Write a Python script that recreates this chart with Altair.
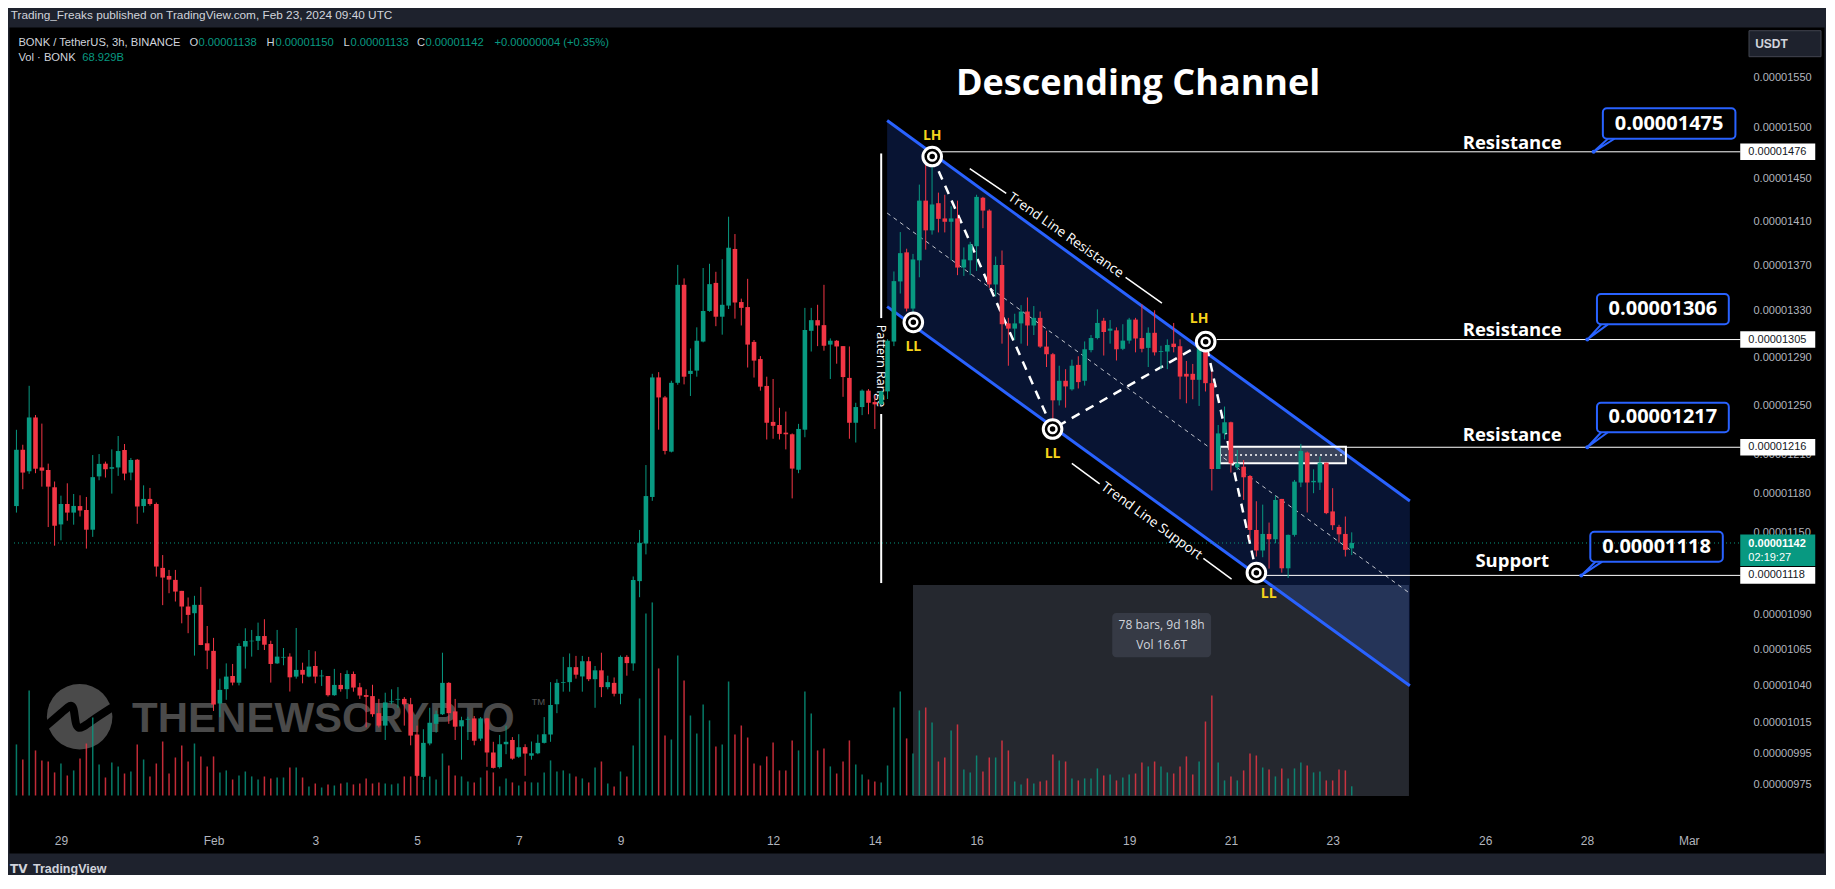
import altair as alt
import numpy as np
import pandas as pd

E = 1e-8  # all prices below are written in units of 1e-8 USDT

# ---------------- BONK/USDT 3h candles (Jan 28 03:00 UTC -> Feb 23 09:00 UTC) -------------
opens = [1170,1214,1197,1240,1200,1198,1184.5,1156,1171.6,1165,1170,1167,1152,1193,1203,1199,1200,1213.8,1196,1206,
         1170,1175.5,1171.6,1123.5,1117.6,1114.7,1106.7,1095.4,1090.6,1096.6,1069.3,1064,1027.9,1037.6,1046.6,1042,1067,1070.7,1071,1074.4,
         1068.8,1055.3,1059.3,1060,1046.2,1050.8,1046.2,1053.5,1046.4,1046.6,
         1033.5,1040.5,1037.6,1048,1038.9,1033.6,1032.9,1021.4,1013.1,1028.8,1030.5,1031,1027.4,1007.2,979.6,1001.3,1014.3,1020.7,1041.9,1022.6,
         1012.6,1017.1,1017.9,1004.5,1017.9,995.4,985.9,1000.8,1003.6,992.6,998.9,993.3,994.9,1001.7,1007.2,1027.4,1041.9,1042.4,1052.7,1046.3,
         1056.8,1044.4,1050.5,1039,1041.9,1034.5,1059.8,1055.3,1113.8,1141.6,
         1177,1273,1256.4,1212.5,1268.5,1352.7,1275.9,1278.7,1303.3,1329.7,1354.4,1324.7,1334.4,1384.9,1337.5,1333.1,1303,1288.4,1265.9,1236.4,
         1233.9,1227.7,1226.4,1198.2,1230.1,1312.5,1321.7,1317.4,1300.7,1304,1299.4,1272.6,1235.7,1248.5,1262,1252.6,1251,1261.4,1303.3,1355.7,
         1381.8,1331.8,1374.6,1429.5,1401.9,1427.1,1412.9,1409.8,1412.9,1368.1,1374.6,1387.4,1432.2,1420.2,1353,1370.4,1318.9,1314.4,1318.9,1329.2,
         1317.1,1323.7,1299,1292.5,1254,1270.2,1263.1,1283.5,1270.2,1296,1306.3,1321.2,1312.6,1312.9,1297.1,1304.1,1322.2,1306.3,1297.9,1310.8,
         1294.5,1294.8,1301.5,1299.3,1276,1276,1271,1298.4,1268.2,1198.8,1227.1,1236.1,1200.1,1200.6,1193.3,1151.8,1136.4,1148.8,1144.8,1175.5,
         1123.2,1148.1,1188.2,1211.8,1188.4,1188.2,1203.8,1165.9,1154.1,1148.8,1138]
highs = [1230,1218,1266,1242,1235,1203,1189,1178,1187.6,1179.3,1178.3,1177,1209.8,1210.6,1204.6,1214.3,1225,1218.6,1207.5,1206.7,
         1186,1184,1172.7,1133,1122,1122,1106.7,1101.9,1103.1,1109.6,1081.5,1073.1,1044.8,1055.3,1054.9,1069.3,1079.9,1078.7,1083.9,1086.3,
         1071.1,1078.7,1066,1062.3,1080.1,1055.8,1064.6,1063.7,1050.8,1046.6,
         1051.5,1048.7,1050.5,1049.7,1041.9,1037.5,1040.6,1031,1035.2,1037.5,1039,1032.2,1031.7,1013.1,1010.7,1025,1023.1,1062.7,1042.4,1031,
         1019,1019,1019.5,1018.8,1018.3,1002.4,1006.9,1013.1,1005.5,1007.4,1000.8,1002.6,1007.2,1018.8,1042.4,1044.4,1059.8,1062.2,1060.5,1060.5,
         1059.8,1053.5,1062.7,1046.8,1045.6,1060.8,1061,1117.2,1151.8,1201.9,
         1276,1277.4,1257.6,1270.2,1370.5,1358.4,1297.4,1315.5,1367.7,1371.5,1364.3,1375.6,1414.5,1398.5,1340.5,1358,1304.6,1290.9,1273.6,1271.7,
         1247.9,1244.8,1227.1,1234.8,1332.4,1332.4,1335.1,1352.7,1306,1304.6,1299.4,1299.1,1252,1263,1263.3,1258.2,1262,1305.3,1364.6,1400.3,
         1385.1,1380.4,1444.6,1471.5,1476,1437,1435,1424.2,1429.5,1386.3,1391.4,1435,1433,1421.4,1378,1383.5,1323.7,1327.3,1334.8,1341.5,
         1334,1329.2,1312.6,1293.6,1282.8,1279.9,1287.9,1290.8,1303.4,1308.9,1331.1,1323.7,1321.8,1315.5,1318.2,1323.7,1323.7,1335.5,1315.5,1330.3,
         1299.7,1305.2,1319.3,1305.2,1286.8,1284.3,1310.3,1306,1277.8,1233.9,1248.9,1236.6,1213.9,1205.9,1194.1,1173.7,1171.1,1157.4,1177.8,1175.5,
         1148.3,1190.2,1218.7,1212.6,1198.5,1208.6,1203.8,1183.8,1155.7,1162,1150]
lows = [1165,1183,1195,1195.5,1185,1154,1140,1144,1158.8,1155.8,1162,1137.8,1146.6,1190,1192.1,1179.6,1193.4,1190,1190,1156.5,
        1165,1170.3,1117.1,1096.4,1105,1099,1083.4,1076.4,1060.7,1068,1051.3,1022.9,1018.7,1030.4,1040.2,1040.2,1051.7,1060,1064.6,1064.6,
        1042.1,1054.9,1054,1036,1044.8,1041.6,1045.7,1041.6,1039.8,1032.6,
        1033.1,1035.9,1031,1035.9,1031,1011.9,1019,1011.9,1003.6,1027.4,1025,1013.1,1000.1,979.8,978.4,1000.1,1008.4,1020.2,1014.3,1003.6,
        990.7,1003.6,1000.1,1002.9,986.1,985,985,994.3,990.7,991.9,980.3,990.7,994.3,1001.3,1002.4,1021.4,1035.9,1035.9,1044.8,1035.9,
        1043.1,1025,1032.2,1037.5,1032.7,1027.4,1046.8,1050.2,1102.1,1133.5,
        1174,1230.1,1210.3,1211.9,1266.9,1267.2,1257.6,1273.6,1302.6,1329,1316.5,1309.2,1331.4,1323,1317.1,1281.3,1272.9,1262,1222.2,1222.8,
        1222.2,1214.3,1175.9,1195.5,1224,1294.8,1299.4,1295.5,1271.7,1284.5,1256.9,1222.8,1219.8,1241.9,1242.6,1230.7,1250.1,1255.1,1299.4,1345,
        1329.3,1325.6,1359.4,1384.3,1398,1400,1400,1374.6,1361.3,1360.6,1361.3,1365.1,1403.9,1350,1342.3,1301.5,1282.8,1304.5,1301.5,1299.7,
        1308.9,1297.9,1281.7,1237.5,1249.8,1248,1262,1263.8,1266.2,1294.1,1305.2,1291.4,1301.5,1287.2,1296,1301.5,1294.1,1294.1,1281.7,1291.4,
        1279.9,1279.9,1294.1,1254.9,1251.6,1254.9,1249.4,1261.3,1182,1198.8,1222.3,1196,1198,1174.7,1144.3,1131.9,1131.4,1123,1141.8,1120,
        1116.1,1146.8,1184.6,1165.1,1179.9,1182.4,1163.8,1151.8,1142.3,1131.9,1133]
closes = [1214,1196,1240,1199,1197.5,1185,1155,1171.6,1165,1170.1,1166.6,1152,1192.4,1202.8,1198.6,1200.2,1213,1195.2,1205.9,1169.6,
          1175.5,1171.6,1124.5,1116.4,1114.9,1106.2,1095.4,1089.4,1096.6,1068.1,1064.2,1027.2,1037.1,1046.2,1042.1,1067.4,1070.9,1071.1,1074.4,1068.3,
          1054.9,1060,1059.8,1045.7,1050.8,1047.5,1053.1,1046.2,1046.9,1033.5,
          1040.5,1037.6,1048,1038.7,1033.3,1032.4,1020.7,1013.1,1028.6,1029.3,1031,1027.4,1006.5,980.3,1001.7,1015,1020.7,1041.9,1021.4,1012.4,
          1016.7,1017.6,1003.1,1017.9,995.4,985.4,1000.8,1002.4,991.4,998.9,994.7,994.9,1001.7,1007.4,1026.9,1041.9,1042.4,1052.7,1047.5,1056.8,
          1044.4,1050.5,1039,1042.4,1034.5,1059.8,1055.5,1114.6,1142.1,1177.7,
          1273,1256.4,1213.1,1268.5,1352.7,1273.6,1278.5,1304,1329.7,1353.3,1324.7,1335.1,1386,1337.1,1332.4,1300.7,1287.1,1265.3,1235.7,1233.2,
          1226.7,1226.4,1199.1,1230.7,1313.2,1321.7,1317.1,1299.7,1304,1299.1,1273.3,1235.7,1248.5,1262,1252,1250.7,1261.4,1304,1356,1381.1,
          1331.8,1375.4,1429.5,1401.9,1425.9,1412.5,1409.8,1412.9,1368.1,1375.4,1389,1433,1420.2,1353,1370.4,1318.2,1314.4,1318.9,1329.2,1317.1,
          1323.7,1299,1292.5,1254,1270.2,1265.5,1282.8,1269.1,1296.7,1306.3,1319.3,1311.5,1314.4,1296.7,1304.1,1322.2,1305.9,1297.1,1310.8,1294.1,
          1295.2,1300.4,1298.6,1273.7,1273.7,1271,1299,1268.2,1198.8,1227.1,1236.1,1203.2,1203.2,1192.3,1151.8,1136.4,1148.8,1144.8,1174.7,1123.2,
          1148.1,1188.9,1213.1,1188.2,1189.5,1203.8,1164.6,1155.4,1148.5,1136.9,1142]
volumes_b = [383,270,788,338,263,255,173,240,150,188,278,390,585,233,135,248,218,165,180,383,270,143,240,405,165,285,375,255,390,293,
             218,293,173,188,120,150,180,143,120,143,128,135,135,210,210,135,68,90,60,83,75,90,
             98,83,90,128,90,98,90,83,90,143,143,233,120,143,120,315,225,150,143,105,98,135,188,173,68,128,98,75,105,98,98,173,263,180,
             188,165,143,128,98,210,255,90,68,180,143,375,728,1365,
             1448,953,450,420,1050,863,600,465,683,563,368,383,855,458,525,435,240,225,293,398,188,188,413,338,780,615,338,353,218,165,
             255,413,233,158,120,105,98,
             225,660,780,428,315,638,660,548,255,285,488,533,195,173,300,180,285,285,413,338,105,83,128,90,105,113,308,263,255,128,
             113,128,128,203,150,158,113,135,158,165,248,218,255,218,173,
             165,218,293,158,255,555,750,248,113,143,113,188,315,300,210,195,143,203,128,203,248,225,173,180,113,113,195,188,69]

# ---------------- axes -----------------------------------------------------------------------
x_tick_days = [0, 3, 5, 7, 9, 11, 14, 16, 18, 21, 23, 25, 28, 30, 32]   # days after Jan 29 00:00 UTC
x_tick_labels = ["29", "Feb", "3", "5", "7", "9", "12", "14", "16", "19", "21", "23", "26", "28", "Mar"]
y_tick_values = [1550, 1500, 1450, 1410, 1370, 1330, 1290, 1250, 1210, 1180, 1150, 1090, 1065, 1040, 1015, 995, 975]
X_DOMAIN = [-0.9228, 34.561]
Y_DOMAIN = [931.9, 1601.9]

# ---------------- drawings (day, price) ------------------------------------------------------
chan_days = [16.242, 26.518]
chan_upper = [1506.6, 1173.9]
chan_lower = [1333.5, 1039.9]
chan_mid = [1417.9, 1104.9]

pivot_days = [17.128, 16.757, 19.494, 22.504, 23.501]
pivot_prices = [1471.4, 1319.8, 1230.6, 1303.2, 1120.0]
pivot_label_days = [17.128, 16.757, 19.494, 22.375, 23.744]
pivot_label_prices = [1491.0, 1298.5, 1210.7, 1322.7, 1104.4]
pivot_labels = ["LH", "LL", "LL", "LH", "LL"]
zig_order = [0, 2, 3, 4]  # LH -> LL -> LH -> LL

level_prices = [1476, 1305, 1216, 1118]
level_start = [17.31, 22.72, 25.261, 23.697]
level_end = 33.016
level_texts = ["Resistance", "Resistance", "Resistance", "Support"]
level_text_prices = [1478.4, 1308.0, 1221.2, 1124.0]
level_text_day = 28.53

callout_labels = ["0.00001475", "0.00001306", "0.00001217", "0.00001118"]
callout_d0 = [30.312, 30.196, 30.196, 30.065]
callout_d1 = [32.918, 32.788, 32.788, 32.670]
callout_top = [1518.7, 1344.6, 1252.0, 1150.5]
callout_bot = [1488.7, 1318.1, 1228.0, 1128.1]
callout_mid = [1503.6, 1331.2, 1240.0, 1139.2]
tail_left = [30.411, 30.280, 30.280, 30.169]
tail_right = [30.540, 30.411, 30.411, 30.300]
tail_tip = [30.130, 30.006, 30.006, 29.888]

zone_days = [22.786, 25.261]
zone_prices = [1216.4, 1203.3, 1209.8]

arrow_part = ["head", "head", "head", "shaft", "shaft", "shaft"]
arrow_price = [1470.3, 1409.9, 1390.6, 1408.9, 1399.2, 1214.4]
arrow_left = [26.512, 25.308, 27.087, 25.738, 25.715, 25.230]
arrow_right = [26.512, 26.944, 27.087, 25.738, 26.676, 25.230]

measure_days = [16.75, 26.5]
measure_prices = [1111.0, 967.4]
measure_box_days = [20.667, 22.610]
measure_box_prices = [1090.8, 1059.5]
measure_texts = ["78 bars, 9d 18h", "Vol 16.6T"]
measure_text_prices = [1082.3, 1068.1]
measure_text_day = 21.638

pattern_day = 16.125
pattern_segments = [(1474.4, 1323.5), (1242.8, 1112.4)]
pattern_text_price = 1282.6

tl_res_segments = [(17.866, 1459.9, 18.583, 1436.4), (20.929, 1359.3, 21.644, 1336.6)]
tl_sup_segments = [(19.873, 1203.3, 20.420, 1187.2), (22.459, 1130.6, 23.013, 1115.2)]
tl_texts = ["Trend Line Resistance", "Trend Line Support"]
tl_text_days = [19.755, 21.441]
tl_text_prices = [1397.3, 1158.6]

last_price = 1142
axis_box_day = 33.75
axis_text_day = 33.172

wm_curve_days = [-0.3167, 0.0352, 0.2307, 0.2698, 0.3089, 0.5630, 1.0518]
wm_curve_prices = [1012.2, 1022.2, 1028.9, 1020.1, 1008.8, 1015.5, 1026.2]

# ---------------- styling --------------------------------------------------------------------
GREEN, RED, BLUE, YELLOW = "#089981", "#f23645", "#2962ff", "#f5d31c"
FRAME, TXT, AX = "#1e222d", "#d1d4dc", "#b2b5be"
FONT = "Liberation Sans, Arial, sans-serif"
ANN = "Open Sans, Liberation Sans, sans-serif"

lab_expr = "[" + ",".join(f"'{l}'" for l in x_tick_labels) + "][indexof([" + \
           ",".join(str(d) for d in x_tick_days) + "], datum.value)]"
XAXIS = alt.Axis(values=x_tick_days, labelExpr=lab_expr, orient="bottom", offset=-13, domain=False,
                 ticks=False, grid=False, labelPadding=0, labelBaseline="middle", labelColor=AX,
                 labelFontSize=12, labelFont=FONT, title=None, labelOverlap=False, labelFlush=False)
YAXIS = alt.Axis(values=[v * E for v in y_tick_values], format=".8f", orient="right", offset=-71,
                 domain=False, ticks=False, grid=False, labelPadding=0, labelAlign="left",
                 labelBaseline="middle", labelColor=AX, labelFontSize=11, labelFont=FONT,
                 title=None, labelOverlap=False, labelFlush=False)

XS = alt.Scale(domain=X_DOMAIN, nice=False, zero=False)
YS = alt.Scale(type="log", domain=[v * E for v in Y_DOMAIN], nice=False)


def px(f):
    # every layer carries the same x axis so the shared (merged) axis is kept
    return alt.X(f, type="quantitative", scale=XS, axis=XAXIS)


def py(f):
    return alt.Y(f, type="quantitative", scale=YS, axis=None)


def P(vals):
    return np.array(vals, dtype=float) * E


# ---------------- tables ---------------------------------------------------------------------
times = pd.date_range("2024-01-28 03:00", periods=len(opens), freq=pd.Timedelta(hours=3))
candles = pd.DataFrame({
    "day": np.asarray((times - pd.Timestamp("2024-01-29")) / pd.Timedelta(days=1), dtype=float),
    "open": P(opens), "high": P(highs), "low": P(lows), "close": P(closes),
    "vol": volumes_b,
})
candles["dir"] = np.where(candles["close"] >= candles["open"], "up", "down")
DIRC = alt.Color("dir:N", scale=alt.Scale(domain=["up", "down"], range=[GREEN, RED]), legend=None)

layers = []

# watermark
wm = pd.DataFrame({"day": [0.3675], "p": P([1019.0])})
layers.append(alt.Chart(wm).mark_point(shape="circle", size=4300, filled=True, fill="#4a4a4a",
                                       strokeWidth=0, opacity=1).encode(x=px("day"), y=py("p")))
wmc = pd.DataFrame({"day": wm_curve_days, "p": P(wm_curve_prices), "k": range(len(wm_curve_days))})
layers.append(alt.Chart(wmc).mark_line(color="#000000", strokeWidth=8, interpolate="basis").encode(
    x=px("day"), y=py("p"), order="k:Q"))
wmt = pd.DataFrame({"day": [1.398, 9.228], "p": P([1009.0, 1026.6]), "t": ["THENEWSCRYPTO", "™"]})
layers.append(alt.Chart(wmt.iloc[[0]]).mark_text(align="left", baseline="alphabetic", font=FONT,
                                                 fontWeight="bold", fontSize=42, color="#4a4a4a").encode(
    x=px("day"), y=py("p"), text="t:N"))
layers.append(alt.Chart(wmt.iloc[[1]]).mark_text(align="left", baseline="middle", font=FONT,
                                                 fontSize=16, color="#4a4a4a").encode(
    x=px("day"), y=py("p"), text="t:N"))

# measure (date & price range) area
meas = pd.DataFrame({"d0": [measure_days[0]], "d1": [measure_days[1]],
                     "p0": P([measure_prices[0]]), "p1": P([measure_prices[1]])})
layers.append(alt.Chart(meas).mark_rect(color="#25282f", opacity=1).encode(
    x=px("d0"), x2="d1", y=py("p0"), y2="p1"))

# channel fill
chan = pd.DataFrame({"day": chan_days, "up": P(chan_upper), "lo": P(chan_lower), "mid": P(chan_mid)})
layers.append(alt.Chart(chan).mark_area(color=BLUE, opacity=0.2).encode(x=px("day"), y=py("up"), y2="lo"))

# volume
layers.append(alt.Chart(candles).mark_bar(size=1.5, opacity=0.8).encode(
    x=px("day"),
    y=alt.Y("vol:Q", scale=alt.Scale(domain=[0, 5764], range=[768.5, 0], nice=False), axis=None),
    color=DIRC))

# measure label
mbox = pd.DataFrame({"d0": [measure_box_days[0]], "d1": [measure_box_days[1]],
                     "p0": P([measure_box_prices[0]]), "p1": P([measure_box_prices[1]])})
layers.append(alt.Chart(mbox).mark_rect(color="#363a45", cornerRadius=4, opacity=1).encode(
    x=px("d0"), x2="d1", y=py("p0"), y2="p1"))
mtxt = pd.DataFrame({"day": [measure_text_day] * 2, "p": P(measure_text_prices), "t": measure_texts})
layers.append(alt.Chart(mtxt).mark_text(font=ANN, fontSize=12, color=TXT, baseline="middle").encode(
    x=px("day"), y=py("p"), text="t:N"))

# channel lines
chl = pd.DataFrame({"day": chan_days * 2, "p": np.concatenate([P(chan_upper), P(chan_lower)]),
                    "line": ["u", "u", "l", "l"]})
layers.append(alt.Chart(chl).mark_line(color=BLUE, strokeWidth=3).encode(x=px("day"), y=py("p"), detail="line:N"))
layers.append(alt.Chart(chan).mark_line(color="#ffffff", strokeWidth=1, strokeDash=[4, 4], opacity=0.75).encode(
    x=px("day"), y=py("mid")))

# pattern range
prs = pd.DataFrame({"day": [pattern_day] * 2, "p0": P([s[0] for s in pattern_segments]),
                    "p1": P([s[1] for s in pattern_segments])})
layers.append(alt.Chart(prs).mark_rule(color="#ffffff", strokeWidth=2).encode(x=px("day"), y=py("p0"), y2="p1"))
prt = pd.DataFrame({"day": [pattern_day], "p": P([pattern_text_price]), "t": ["Pattern Range"]})
layers.append(alt.Chart(prt).mark_text(angle=90, font=ANN, fontSize=12.5, color="#ffffff", baseline="middle").encode(
    x=px("day"), y=py("p"), text="t:N"))

# last price dotted line
lp = pd.DataFrame({"d0": [X_DOMAIN[0]], "d1": [level_end], "p": P([last_price])})
layers.append(alt.Chart(lp).mark_rule(color=GREEN, strokeWidth=1, strokeDash=[1, 3]).encode(
    x=px("d0"), x2="d1", y=py("p")))

# horizontal levels
lv = pd.DataFrame({"d0": level_start, "d1": [level_end] * 4, "p": P(level_prices)})
layers.append(alt.Chart(lv).mark_rule(color="#ffffff", strokeWidth=1).encode(x=px("d0"), x2="d1", y=py("p")))

# trend line label segments
segs = pd.DataFrame(tl_res_segments + tl_sup_segments, columns=["d0", "p0", "d1", "p1"])
segs["p0"] = segs["p0"] * E
segs["p1"] = segs["p1"] * E
layers.append(alt.Chart(segs).mark_rule(color="#ffffff", strokeWidth=1.5).encode(
    x=px("d0"), x2="d1", y=py("p0"), y2="p1"))
tlt = pd.DataFrame({"day": tl_text_days, "p": P(tl_text_prices), "t": tl_texts})
layers.append(alt.Chart(tlt.iloc[[0]]).mark_text(angle=35, font=ANN, fontSize=13.5, color="#ffffff",
                                                 baseline="middle").encode(x=px("day"), y=py("p"), text="t:N"))
layers.append(alt.Chart(tlt.iloc[[1]]).mark_text(angle=36, font=ANN, fontSize=13.5, color="#ffffff",
                                                 baseline="middle").encode(x=px("day"), y=py("p"), text="t:N"))

# zigzag
zz = pd.DataFrame({"day": [pivot_days[i] for i in zig_order], "p": P([pivot_prices[i] for i in zig_order]),
                   "k": range(len(zig_order))})
layers.append(alt.Chart(zz).mark_line(color="#ffffff", strokeWidth=2.5, strokeDash=[9, 7]).encode(
    x=px("day"), y=py("p"), order="k:Q"))

# resistance zone rectangle
zone = pd.DataFrame({"d0": [zone_days[0]], "d1": [zone_days[1]], "p0": P([zone_prices[0]]),
                     "p1": P([zone_prices[1]]), "pm": P([zone_prices[2]])})
layers.append(alt.Chart(zone).mark_rect(fill="#ffffff", fillOpacity=0.2, stroke="#ffffff", strokeWidth=2).encode(
    x=px("d0"), x2="d1", y=py("p0"), y2="p1"))
layers.append(alt.Chart(zone).mark_rule(color="#ffffff", strokeWidth=1.5, strokeDash=[2, 3]).encode(
    x=px("d0"), x2="d1", y=py("pm")))

# candles
layers.append(alt.Chart(candles).mark_rule(strokeWidth=1).encode(
    x=px("day"), y=alt.Y("low:Q", scale=YS, axis=YAXIS), y2="high:Q", color=DIRC))
layers.append(alt.Chart(candles).mark_bar(size=4.6, opacity=1).encode(
    x=px("day"), y=py("open"), y2="close", color=DIRC))

# pivot markers
pv = pd.DataFrame({"day": pivot_days, "p": P(pivot_prices)})
layers.append(alt.Chart(pv).mark_point(shape="circle", size=346, filled=True, fill="#000000", stroke="#ffffff",
                                       strokeWidth=3, opacity=1).encode(x=px("day"), y=py("p")))
layers.append(alt.Chart(pv).mark_point(shape="circle", size=64, filled=False, stroke="#ffffff",
                                       strokeWidth=2.5, opacity=1).encode(x=px("day"), y=py("p")))
pvl = pd.DataFrame({"day": pivot_label_days, "p": P(pivot_label_prices), "t": pivot_labels})
layers.append(alt.Chart(pvl).mark_text(font=ANN, fontWeight="bold", fontSize=14, color=YELLOW,
                                       baseline="middle").encode(x=px("day"), y=py("p"), text="t:N"))

# breakout arrow
arr = pd.DataFrame({"part": arrow_part, "k": range(6), "p": P(arrow_price), "xl": arrow_left, "xr": arrow_right})
layers.append(alt.Chart(arr).mark_area(orient="horizontal", color="#ffffff", opacity=1).encode(
    y=py("p"), x=px("xl"), x2="xr", detail="part:N", order="k:Q"))

# level labels and callouts
lt = pd.DataFrame({"day": [level_text_day] * 4, "p": P(level_text_prices), "t": level_texts})
layers.append(alt.Chart(lt).mark_text(font=ANN, fontWeight="bold", fontSize=18.5, color="#ffffff",
                                      baseline="alphabetic").encode(x=px("day"), y=py("p"), text="t:N"))
cb = pd.DataFrame({"d0": callout_d0, "d1": callout_d1, "p0": P(callout_top), "p1": P(callout_bot),
                   "pm": P(callout_mid), "dm": [(a + b) / 2 for a, b in zip(callout_d0, callout_d1)],
                   "t": callout_labels})
layers.append(alt.Chart(cb).mark_rect(fill="#000000", fillOpacity=0, stroke=BLUE, strokeWidth=2,
                                      cornerRadius=4).encode(x=px("d0"), x2="d1", y=py("p0"), y2="p1"))
layers.append(alt.Chart(cb).mark_text(font=ANN, fontWeight="bold", fontSize=20, color="#ffffff",
                                      baseline="middle").encode(x=px("dm"), y=py("pm"), text="t:N"))
tail_rows = []
for j in range(4):
    tail_rows += [(j, 0, tail_left[j], callout_bot[j]), (j, 1, tail_tip[j], level_prices[j]),
                  (j, 2, tail_right[j], callout_bot[j])]
tails = pd.DataFrame(tail_rows, columns=["id", "k", "day", "p"])
tails["p"] = tails["p"] * E
layers.append(alt.Chart(tails).mark_line(color=BLUE, strokeWidth=2).encode(
    x=px("day"), y=py("p"), detail="id:N", order="k:Q"))
tips = pd.DataFrame({"day": tail_tip, "p": P(level_prices)})
layers.append(alt.Chart(tips).mark_point(shape="circle", size=16, filled=True, color=BLUE, opacity=1).encode(
    x=px("day"), y=py("p")))

# price-scale badges
badge = "M-1,-0.2213L1,-0.2213L1,0.2213L-1,0.2213Z"
bd = pd.DataFrame({"day": [axis_box_day] * 4, "tx": [axis_text_day] * 4, "p": P(level_prices),
                   "t": [f"{v * E:.8f}" for v in level_prices]})
layers.append(alt.Chart(bd).mark_point(shape=badge, size=5625, filled=True, fill="#ffffff", strokeWidth=0,
                                       opacity=1).encode(x=px("day"), y=py("p")))
layers.append(alt.Chart(bd).mark_text(align="left", baseline="middle", font=FONT, fontSize=11,
                                      color="#131722").encode(x=px("tx"), y=py("p"), text="t:N"))
gb = pd.DataFrame({"day": [axis_box_day], "tx": [axis_text_day], "p": P([last_price]),
                   "t": [f"{last_price * E:.8f}"], "c": ["02:19:27"]})
layers.append(alt.Chart(gb).mark_point(shape="M-1,-0.2267L1,-0.2267L1,0.6133L-1,0.6133Z", size=5625,
                                       filled=True, fill=GREEN, strokeWidth=0, opacity=1).encode(
    x=px("day"), y=py("p")))
layers.append(alt.Chart(gb).mark_text(align="left", baseline="middle", font=FONT, fontSize=11, fontWeight="bold",
                                      color="#ffffff", dy=1).encode(x=px("tx"), y=py("p"), text="t:N"))
layers.append(alt.Chart(gb).mark_text(align="left", baseline="middle", font=FONT, fontSize=11,
                                      color="#ffffff", dy=15).encode(x=px("tx"), y=py("p"), text="c:N"))

# title
ttl = pd.DataFrame({"day": [21.175], "p": P([1543.4]), "t": ["Descending Channel"]})
layers.append(alt.Chart(ttl).mark_text(font=ANN, fontWeight="bold", fontSize=36, color="#ffffff",
                                       baseline="middle").encode(x=px("day"), y=py("p"), text="t:N"))


# screen texts (header, legend, footer, currency button)
def ptext(text, x, y, color, size=11.5, weight="normal", align="left", font=FONT):
    return alt.Chart(pd.DataFrame({"t": [text]})).mark_text(
        align=align, baseline="middle", color=color, fontSize=size, fontWeight=weight, font=font).encode(
        x=alt.value(x), y=alt.value(y), text="t:N")


layers.append(ptext("Trading_Freaks published on TradingView.com, Feb 23, 2024 09:40 UTC", 1.7, -12, TXT, 11.8))
legend_items = [("BONK / TetherUS, 3h, BINANCE", 9.4, TXT),
                ("O", 180.5, TXT), ("0.00001138", 189.5, GREEN),
                ("H", 257.5, TXT), ("0.00001150", 266.5, GREEN),
                ("L", 334.5, TXT), ("0.00001133", 341.5, GREEN),
                ("C", 408.0, TXT), ("0.00001142", 416.5, GREEN),
                ("+0.00000004 (+0.35%)", 485.5, GREEN)]
for t, x, c in legend_items:
    layers.append(ptext(t, x, 15.7, c, 11.2))
layers.append(ptext("Vol · BONK", 9.4, 31, TXT, 11.2))
layers.append(ptext("68.929B", 73.3, 31, GREEN, 11.2))

usdt = pd.DataFrame({"a": [0]})
layers.append(alt.Chart(usdt).mark_point(shape="M-1,-0.361L1,-0.361L1,0.361L-1,0.361Z", size=5184, filled=True,
                                         fill=FRAME, stroke="#434651", strokeWidth=1, opacity=1).encode(
    x=alt.value(1776), y=alt.value(16.7)))
layers.append(ptext("USDT", 1762.5, 16.7, TXT, 12, "bold", "center"))
layers.append(ptext("TV", 1, 842, TXT, 12, "bold", "left", "DejaVu Sans"))
layers.append(ptext("TradingView", 24, 842, TXT, 12.5, "bold"))

chart = alt.layer(*layers).resolve_scale(y="independent").properties(
    width=1815, height=826, background=FRAME,
    padding={"left": 1, "top": 19, "right": 2, "bottom": 22},
    autosize=alt.AutoSizeParams(type="none"),
).configure_view(fill="#000000", stroke="transparent")

chart.save("out.html", embed_options={"renderer": "svg", "actions": False})
